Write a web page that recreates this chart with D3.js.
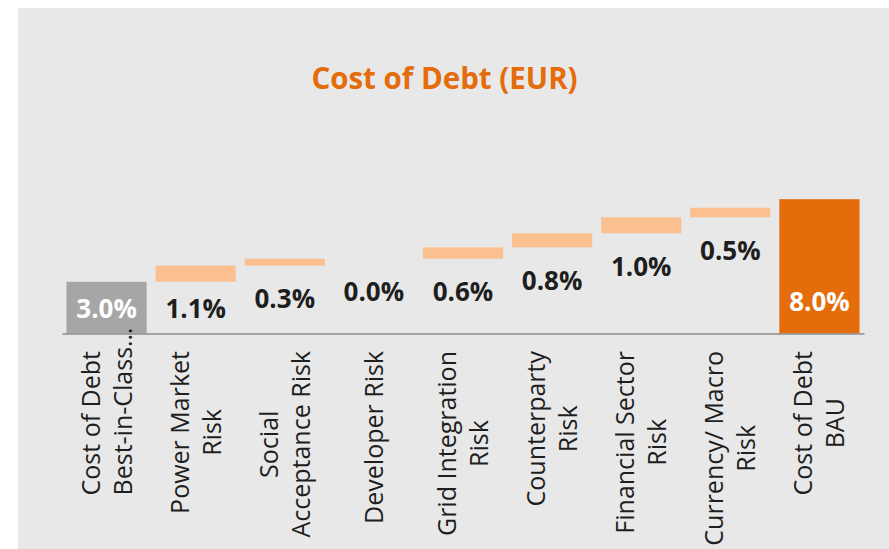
<!DOCTYPE html>
<html>
<head>
<meta charset="utf-8">
<script src="https://cdn.jsdelivr.net/npm/d3@7"></script>
<style>
  html, body { margin: 0; padding: 0; background: #ffffff; }
  svg { display: block; }
</style>
</head>
<body>
<svg id="chart" width="889" height="549"></svg>
<script>
// ---- data ----
const categories = [
  ["Cost of Debt", "Best-in-Class…"],
  ["Power Market", "Risk"],
  ["Social", "Acceptance Risk"],
  ["Developer Risk"],
  ["Grid Integration", "Risk"],
  ["Counterparty", "Risk"],
  ["Financial Sector", "Risk"],
  ["Currency/ Macro", "Risk"],
  ["Cost of Debt", "BAU"]
];
const startValue = 3.08;                       // Best-in-class cost of debt (bar height)
const increments = [0.96, 0.41, 0.0, 0.68, 0.84, 0.95, 0.57]; // risk add-ons (bar heights)
const endValue = 8.0;                          // BAU cost of debt
const valueLabels = ["3.0%", "1.1%", "0.3%", "0.0%", "0.6%", "0.8%", "1.0%", "0.5%", "8.0%"];
const yTicks = [0, 2, 4, 6, 8, 10];

// ---- build waterfall rows ----
const rows = [];
rows.push({ kind: "start", y0: 0, y1: startValue });
let acc = startValue;
increments.forEach(v => { rows.push({ kind: "inc", y0: acc, y1: acc + v }); acc += v; });
rows.push({ kind: "end", y0: 0, y1: endValue });
rows.forEach((r, i) => { r.cat = i; r.label = valueLabels[i]; r.lines = categories[i]; });

const colors = { start: "#a6a6a6", inc: "#fac090", end: "#e46c0a" };

const svg = d3.select("#chart");
svg.append("rect").attr("x", 18).attr("y", 8).attr("width", 871).attr("height", 541).attr("fill", "#e8e8e8");

const x = d3.scaleBand().domain(rows.map(r => r.cat)).range([62, 864]).paddingInner(0.1).paddingOuter(0.05);
const y = d3.scaleLinear().domain([yTicks[0], yTicks[yTicks.length - 1]]).range([333.5, 333.5 - 167.9]);

// title
svg.append("text")
  .attr("x", 444.5).attr("y", 89)
  .attr("text-anchor", "middle")
  .attr("font-family", "'Open Sans', sans-serif")
  .attr("font-weight", 700)
  .attr("font-size", 29.5)
  .attr("fill", "#e46c0a")
  .text("Cost of Debt (EUR)");

// bars
svg.append("g").selectAll("rect").data(rows).join("rect")
  .attr("x", d => x(d.cat))
  .attr("width", x.bandwidth())
  .attr("y", d => y(d.y1))
  .attr("height", d => Math.max(0, y(d.y0) - y(d.y1)))
  .attr("fill", d => colors[d.kind]);

// axis (domain line only)
const axis = svg.append("g").attr("transform", `translate(0,${y(0)})`)
  .call(d3.axisBottom(x).tickSize(0).tickSizeOuter(0).tickFormat(""));
axis.select(".domain").attr("stroke", "#8c8c8c").attr("stroke-width", 1.3);

// value labels
const base = y(0);
svg.append("g").selectAll("text").data(rows).join("text")
  .attr("x", d => x(d.cat) + x.bandwidth() / 2)
  .attr("y", d => {
    let c;
    if (d.kind === "start") c = base - 25.5;
    else if (d.kind === "end") c = base - 32;
    else c = Math.min(y(d.y0) + 33, base - 25.5);
    return c + 9.5;
  })
  .attr("text-anchor", "middle")
  .attr("font-family", "'Open Sans', sans-serif")
  .attr("font-weight", 700)
  .attr("font-size", 26)
  .attr("fill", d => d.kind === "inc" ? "#1e1e1e" : "#ffffff")
  .text(d => d.label);

// category labels (rotated)
const fs = 25, lh = 32, topY = 351;
rows.forEach(r => {
  const g = svg.append("g");
  const texts = r.lines.map((line, i) => g.append("text")
    .attr("font-family", "'Open Sans', sans-serif")
    .attr("font-size", fs)
    .attr("fill", "#1e1e1e")
    .attr("y", (i - (r.lines.length - 1) / 2) * lh + 0.36 * fs)
    .text(line));
  const lens = texts.map(t => t.node().getComputedTextLength());
  const maxLen = d3.max(lens.filter((l, i) => !r.lines[i].endsWith("…")).concat([0]));
  texts.forEach((t, i) => {
    if (r.lines[i].endsWith("…")) t.attr("text-anchor", "start").attr("x", -maxLen / 2);
    else t.attr("text-anchor", "middle").attr("x", 0);
  });
  const cx = x(r.cat) + x.bandwidth() / 2;
  g.attr("transform", `translate(${cx},${topY + maxLen / 2}) rotate(-90)`);
});
</script>
</body>
</html>
